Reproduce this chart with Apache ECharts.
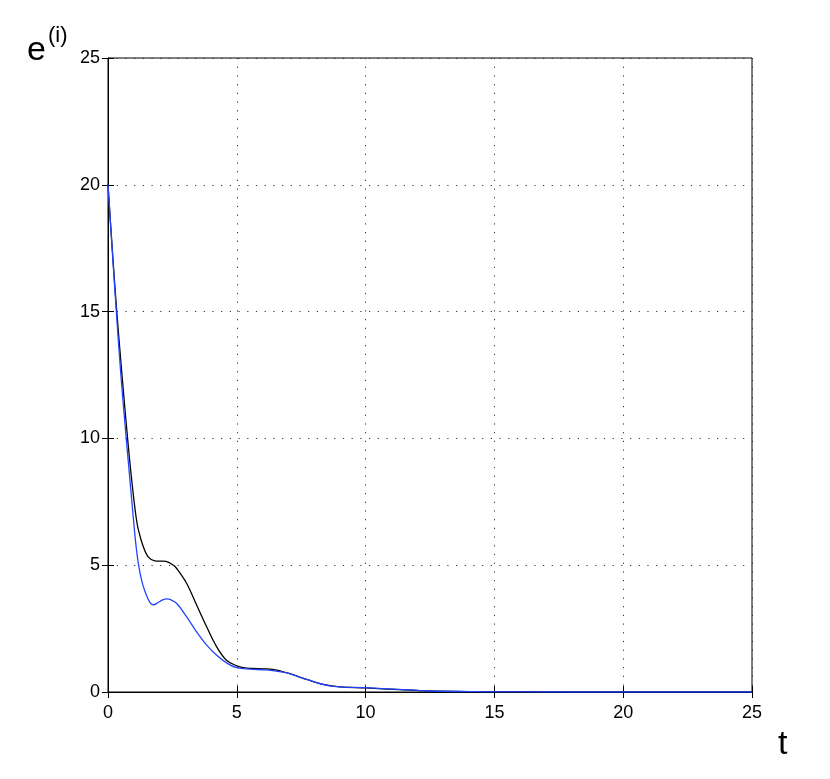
<!DOCTYPE html>
<html>
<head>
<meta charset="utf-8">
<script src="https://cdn.jsdelivr.net/npm/echarts@6/dist/echarts.min.js"></script>
<style>html,body{margin:0;padding:0;background:#fff;}#c{width:830px;height:779px;}</style>
</head>
<body>
<div id="c"></div>
<script>
var tBlack = [0, 0.17, 0.34, 0.56, 0.76, 0.92, 1.07, 1.18, 1.37, 1.56, 1.82, 2.05, 2.25, 2.54, 2.66, 3.05, 3.44, 3.83, 4.22, 4.6, 5.0, 5.25, 5.6, 6.16, 6.55, 7.06, 7.71, 8.36, 9.0, 10.0, 11.3, 12.5, 14.4, 16, 20, 25];
var eBlack = [20, 17.4, 15, 12.3, 10, 8.36, 7.05, 6.39, 5.73, 5.33, 5.17, 5.16, 5.15, 5.0, 4.88, 4.29, 3.43, 2.57, 1.78, 1.25, 1.03, 0.96, 0.93, 0.91, 0.86, 0.72, 0.5, 0.3, 0.2, 0.16, 0.09, 0.04, 0.013, 0.003, 0, 0];
var tBlue = [0, 0.16, 0.31, 0.5, 0.7, 0.83, 0.94, 1.02, 1.09, 1.18, 1.31, 1.44, 1.55, 1.65, 1.76, 1.95, 2.1, 2.28, 2.45, 2.66, 3.05, 3.44, 3.83, 4.22, 4.6, 4.99, 5.51, 6.16, 6.93, 7.71, 8.74, 10.04, 11.3, 12.5, 14.4, 16, 20, 25];
var eBlue = [20, 17.5, 15.2, 12.5, 10.1, 8.6, 7.35, 6.45, 5.75, 5.05, 4.38, 3.95, 3.68, 3.5, 3.44, 3.53, 3.62, 3.67, 3.63, 3.5, 2.97, 2.37, 1.85, 1.45, 1.15, 0.96, 0.9, 0.87, 0.75, 0.5, 0.22, 0.17, 0.1, 0.04, 0.013, 0.003, 0, 0];
var xTicks = [0, 5, 10, 15, 20, 25];
var yTicks = [0, 5, 10, 15, 20, 25];

function pairs(xs, ys) { return xs.map(function (x, i) { return [x, ys[i]]; }); }

var font = 'Liberation Sans, Arial, Helvetica, sans-serif';
var chart = echarts.init(document.getElementById('c'), null, {renderer: 'canvas'});
var gridLine = {show: true, lineStyle: {color: '#333', type: [1.2, 7.5], width: 1}};
chart.setOption({
  animation: false,
  backgroundColor: '#fff',
  grid: {left: 108, right: 78, top: 58, bottom: 87, show: true, borderColor: '#000', borderWidth: 1, backgroundColor: 'transparent'},
  xAxis: [{
    type: 'value', min: xTicks[0], max: xTicks[xTicks.length - 1], interval: 5,
    axisLine: {show: true, lineStyle: {color: '#000', width: 1}},
    axisTick: {show: true, inside: true, length: 6, lineStyle: {color: '#000'}},
    axisLabel: {color: '#000', fontSize: 18, fontFamily: font, margin: 12},
    splitLine: gridLine
  }, {
    type: 'value', position: 'top', min: 0, max: 25, interval: 5,
    axisLine: {show: true, lineStyle: {color: '#000', width: 1}},
    axisTick: {show: true, inside: true, length: 6, lineStyle: {color: '#000'}},
    axisLabel: {show: false}, splitLine: {show: false}
  }],
  yAxis: [{
    type: 'value', min: yTicks[0], max: yTicks[yTicks.length - 1], interval: 5,
    axisLine: {show: true, lineStyle: {color: '#000', width: 1}},
    axisTick: {show: true, inside: true, length: 6, lineStyle: {color: '#000'}},
    axisLabel: {color: '#000', fontSize: 18, fontFamily: font, margin: 8},
    splitLine: gridLine
  }, {
    type: 'value', position: 'right', min: 0, max: 25, interval: 5,
    axisLine: {show: true, lineStyle: {color: '#000', width: 1}},
    axisTick: {show: true, inside: true, length: 6, lineStyle: {color: '#000'}},
    axisLabel: {show: false}, splitLine: {show: false}
  }],
  graphic: [
    {type: 'text', left: 27, top: 34, style: {text: 'e', fontSize: 34, fontFamily: font, fill: '#000'}},
    {type: 'text', left: 48, top: 25, style: {text: '(i)', fontSize: 22, fontFamily: font, fill: '#000'}},
    {type: 'text', left: 778, top: 728, style: {text: 't', fontSize: 34, fontFamily: font, fill: '#000'}}
  ],
  series: [{
    type: 'line', name: 'black', data: pairs(tBlack, eBlack), smooth: 0.35, showSymbol: false,
    lineStyle: {color: '#000', width: 1.3}, clip: true
  }, {
    type: 'line', name: 'blue', data: pairs(tBlue, eBlue), smooth: 0.35, showSymbol: false,
    lineStyle: {color: '#2244ff', width: 1.3}, clip: true
  }]
});
</script>
</body>
</html>
